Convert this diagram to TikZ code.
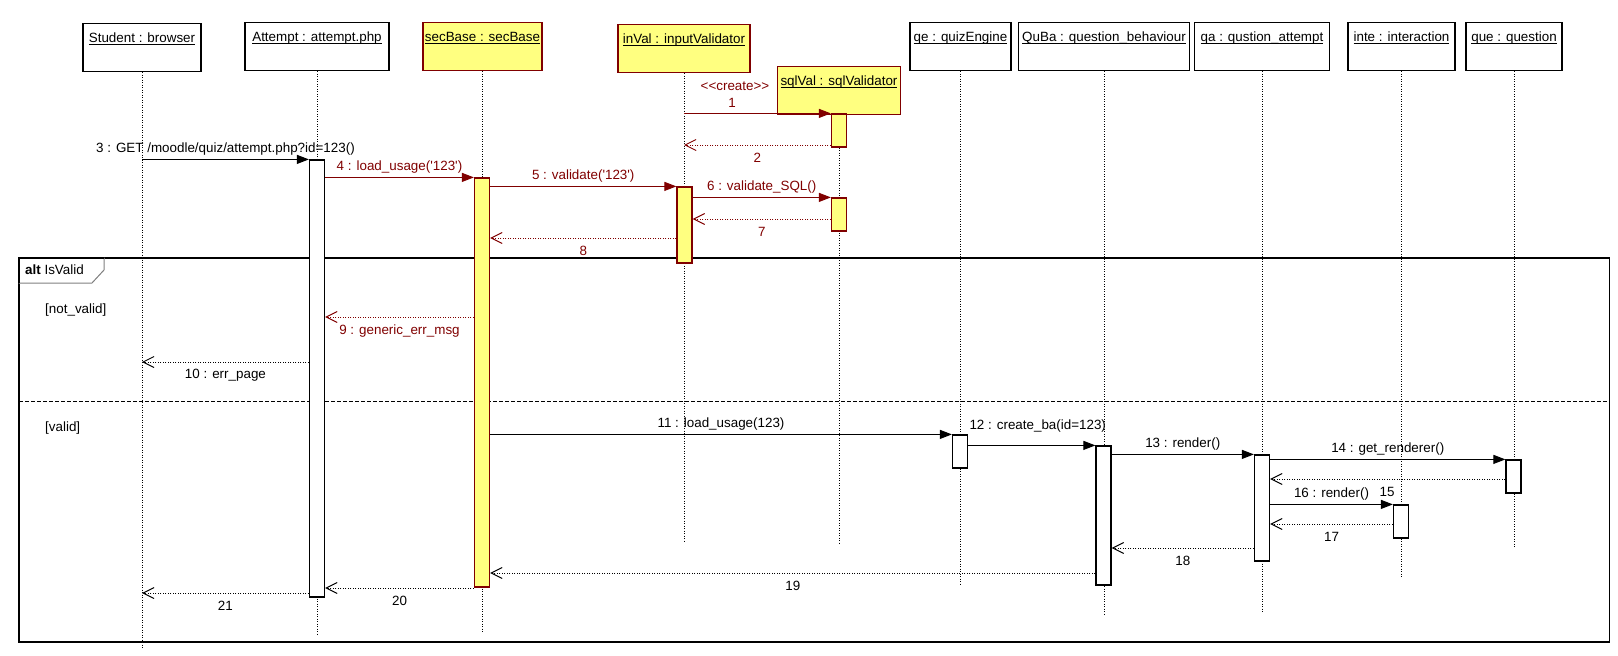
\documentclass[tikz,border=0pt]{standalone}
\usepackage{fontspec}
\newfontfamily\diagfont{Liberation Sans}
\usetikzlibrary{arrows.meta}
\definecolor{dred}{RGB}{128,0,0}
\definecolor{ylw}{RGB}{255,255,128}
\newcommand\undl[1]{\setbox0\hbox{#1}\rlap{\copy0}\rule[-2.6pt]{\wd0}{0.9pt}}
\tikzset{
 dfont/.style={font=\diagfont\fontsize{13.4}{16}\selectfont},
 obj/.style={draw=black, line width=1.2pt, fill=white, anchor=north, inner sep=0pt,
   text height=18.5pt, text depth=29.5pt, dfont},
 yobj/.style={obj, draw=dred, fill=ylw},
 life/.style={line width=0.9pt, dash pattern=on 1pt off 1.5pt},
 act/.style={draw=black, line width=1.2pt, fill=white, minimum width=15pt, inner sep=0pt},
 yact/.style={act, draw=dred, fill=ylw},
 call/.style={line width=1pt, -{Triangle[length=12pt,width=9pt]}},
 ret/.style={line width=1pt, dash pattern=on 1pt off 1.5pt, -{Straight Barb[length=11pt,width=11pt]}},
 lbl/.style={dfont, inner sep=0pt, text height=9.6pt, text depth=2.8pt},
 up/.style={lbl, midway, yshift=10.5pt},
 dn/.style={lbl, midway, yshift=-14pt},
}
\begin{document}
\begin{tikzpicture}[x=1pt,y=-1pt]
\useasboundingbox (0,0) rectangle (1618,656);
% combined fragment
\draw[line width=1.2pt] (19,258) rectangle (1609.5,642);
\draw[gray, line width=1pt, fill=white] (19,258) -- (104,258) -- (104,270) -- (92,283) -- (19,283) -- cycle;
\draw[line width=1.2pt] (19,283) -- (19,258) -- (104,258);
\node[lbl, anchor=west] (altlbl) at (25,271) {{\bfseries alt} IsValid};
\draw[line width=1pt, dash pattern=on 4pt off 2pt] (19,401) -- (1609.5,401);
\node[lbl, anchor=west] (g1) at (45,310) {[not\_valid]};
\node[lbl, anchor=west] (g2) at (45,428) {[valid]};

% objects
\node[obj, minimum width=118pt] (stu) at (142,23) {\undl{Student : browser}};
\node[obj, minimum width=144pt] (att) at (317,22) {\undl{Attempt : attempt.php}};
\node[yobj, minimum width=119pt] (sec) at (482.5,22) {\undl{secBase : secBase}};
\node[yobj, minimum width=132pt] (inV) at (684,24) {\undl{inVal : inputValidator}};
\node[yobj, minimum width=123.5pt] (sql) at (839,66) {\undl{sqlVal : sqlValidator}};
\node[obj, minimum width=101pt] (qe) at (960.5,22) {\undl{qe : quizEngine}};
\node[obj, minimum width=171.5pt] (qb) at (1104,22) {\undl{QuBa : question\_behaviour}};
\node[obj, minimum width=134.5pt] (qa) at (1262,22) {\undl{qa : qustion\_attempt}};
\node[obj, minimum width=107pt] (inte) at (1401.5,22) {\undl{inte : interaction}};
\node[obj, minimum width=96pt] (que) at (1514,22) {\undl{que : question}};

% lifelines
\draw[life] (stu.south) -- (stu.south |- 0,648);
\draw[life] (att.south) -- (att.south |- 0,635);
\draw[life] (sec.south) -- (sec.south |- 0,633);
\draw[life] (inV.south) -- (inV.south |- 0,542);
\draw[life] (sql.south) -- (sql.south |- 0,544);
\draw[life] (qe.south) -- (qe.south |- 0,585);
\draw[life] (qb.south) -- (qb.south |- 0,616);
\draw[life] (qa.south) -- (qa.south |- 0,612);
\draw[life] (inte.south) -- (inte.south |- 0,578);
\draw[life] (que.south) -- (que.south |- 0,547);

% activations
\node[act, minimum height=437pt] (attA) at (317,378.5) {};
\node[yact, minimum height=409pt] (secA) at (482,382.5) {};
\node[yact, minimum height=76pt] (inA) at (684.5,225) {};
\node[yact, minimum height=33pt] (sqA1) at (839,130.5) {};
\node[yact, minimum height=33pt] (sqA2) at (839,214.5) {};
\node[act, minimum height=33pt] (qeA) at (960,451.5) {};
\node[act, minimum height=139pt] (qbA) at (1103.5,515.5) {};
\node[act, minimum height=106pt] (qaA) at (1262,508) {};
\node[act, minimum height=33pt] (queA) at (1513.5,476.5) {};
\node[act, minimum height=33pt] (inteA) at (1401,521.5) {};

% messages
\node[lbl, text=dred] (crt) at (735,87) {<<create>>};
\draw[call, dred] (inV |- sqA1.north) -- (sqA1.north west);
\node[lbl, text=dred] (m1) at (732,104) {1};
\draw[ret, dred] (sqA1.west |- 0,145) -- (inV |- 0,145) node[dn] {2};
\draw[call] (stu |- attA.north) -- (attA.north west) node[up] {3 : GET /moodle/quiz/attempt.php?id=123()};
\draw[call, dred] (attA.east |- secA.north) -- (secA.north west) node[up] {4 : load\_usage('123')};
\draw[call, dred] (secA.east |- inA.north) -- (inA.north west) node[up] {5 : validate('123')};
\draw[call, dred] (inA.east |- sqA2.north) -- (sqA2.north west) node[up] {6 : validate\_SQL()};
\draw[ret, dred] (sqA2.west |- 0,219) -- (inA.east |- 0,219) node[dn] {7};
\draw[ret, dred] (inA.west |- 0,238) -- (secA.east |- 0,238) node[dn] {8};
\draw[ret, dred] (secA.west |- 0,317) -- (attA.east |- 0,317) node[dn] {9 : generic\_err\_msg};
\draw[ret] (attA.west |- 0,362) -- (stu |- 0,362) node[dn, yshift=1pt] {10 : err\_page};
\draw[call] (secA.east |- qeA.north) -- (qeA.north west) node[up] {11 : load\_usage(123)};
\draw[call] (qeA.east |- qbA.north) -- (qbA.north west) node[up, xshift=6pt, yshift=9pt] {12 : create\_ba(id=123)};
\draw[call] (qbA.east |- qaA.north) -- (qaA.north west) node[up] {13 : render()};
\draw[call] (qaA.east |- queA.north) -- (queA.north west) node[up] {14 : get\_renderer()};
\draw[ret] (queA.west |- 0,479) -- (qaA.east |- 0,479);
\node[lbl] (m15) at (1387,493) {15};
\draw[call] (qaA.east |- inteA.north) -- (inteA.north west) node[up] {16 : render()};
\draw[ret] (inteA.west |- 0,524) -- (qaA.east |- 0,524) node[dn] {17};
\draw[ret] (qaA.west |- 0,548) -- (qbA.east |- 0,548) node[dn] {18};
\draw[ret] (qbA.west |- 0,573) -- (secA.east |- 0,573) node[dn] {19};
\draw[ret] (secA.west |- 0,588) -- (attA.east |- 0,588) node[dn] {20};
\draw[ret] (attA.west |- 0,593) -- (stu |- 0,593) node[dn] {21};
\end{tikzpicture}
\end{document}
